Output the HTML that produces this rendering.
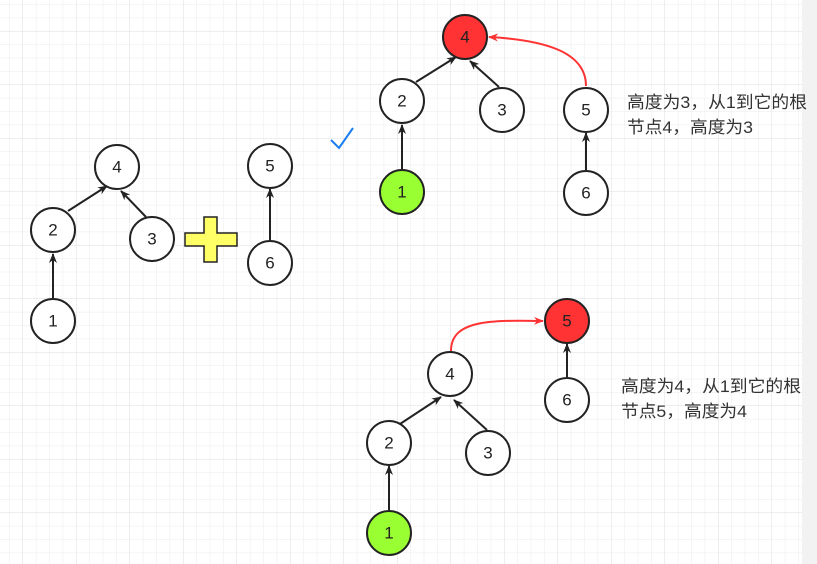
<!DOCTYPE html>
<html><head><meta charset="utf-8"><style>
html,body{margin:0;padding:0;}
body{width:817px;height:564px;overflow:hidden;background:#fff;position:relative;}
svg{position:absolute;left:0;top:0;}
</style></head><body>
<svg width="817" height="564" viewBox="0 0 817 564" font-family="Liberation Sans, Noto Sans CJK SC, sans-serif">
<defs>
<pattern id="minor" width="13.375" height="13.375" patternUnits="userSpaceOnUse" x="22.5" y="31">
<path d="M0 0H13.375M0 0V13.375" stroke="#ebebeb" stroke-width="1" fill="none"/>
</pattern>
<pattern id="major" width="53.5" height="53.5" patternUnits="userSpaceOnUse" x="22.5" y="31">
<path d="M0 0H53.5M0 0V53.5" stroke="#dedede" stroke-width="1" fill="none"/>
</pattern>
<marker id="ab" markerWidth="10" markerHeight="10" refX="9" refY="5" orient="auto" markerUnits="userSpaceOnUse">
<path d="M0,1 L10,5 L0,9 L3,5 Z" fill="#222"/></marker>
<marker id="ar" markerWidth="10" markerHeight="10" refX="9" refY="5" orient="auto" markerUnits="userSpaceOnUse">
<path d="M0,1 L10,5 L0,9 L3,5 Z" fill="#ff3333"/></marker>
</defs>
<rect width="817" height="564" fill="url(#minor)"/>
<rect width="817" height="564" fill="url(#major)"/>
<rect x="802" y="0" width="15" height="564" fill="#f2f2f2"/>

<g stroke="#222" stroke-width="2" fill="none">
<line x1="53" y1="298" x2="53" y2="254" marker-end="url(#ab)"/>
<line x1="68" y1="211" x2="107" y2="186" marker-end="url(#ab)"/>
<line x1="146" y1="217" x2="121" y2="191" marker-end="url(#ab)"/>
<line x1="270" y1="240" x2="270" y2="189" marker-end="url(#ab)"/>
<line x1="402" y1="169" x2="402" y2="125" marker-end="url(#ab)"/>
<line x1="416" y1="82" x2="456" y2="57" marker-end="url(#ab)"/>
<line x1="499" y1="87" x2="470" y2="61" marker-end="url(#ab)"/>
<line x1="586" y1="170" x2="586" y2="133" marker-end="url(#ab)"/>
<line x1="389" y1="510" x2="389" y2="466" marker-end="url(#ab)"/>
<line x1="400" y1="424" x2="441" y2="397" marker-end="url(#ab)"/>
<line x1="487" y1="430" x2="454" y2="400" marker-end="url(#ab)"/>
<line x1="567" y1="377" x2="567" y2="344" marker-end="url(#ab)"/>
</g>
<path d="M586,86 C586,52 545,40 489,37" stroke="#ff3333" stroke-width="2" fill="none" marker-end="url(#ar)"/>
<path d="M451,351 C451,320 490,320 543,321" stroke="#ff3333" stroke-width="2" fill="none" marker-end="url(#ar)"/>

<g stroke="#222" stroke-width="2">
<circle cx="117" cy="167" r="22" fill="#fff"/>
<circle cx="53" cy="230" r="22" fill="#fff"/>
<circle cx="152" cy="239" r="22" fill="#fff"/>
<circle cx="53" cy="321" r="22" fill="#fff"/>
<circle cx="270" cy="166" r="22" fill="#fff"/>
<circle cx="270" cy="263" r="22" fill="#fff"/>
<circle cx="465" cy="37" r="22" fill="#ff3333"/>
<circle cx="402" cy="101" r="22" fill="#fff"/>
<circle cx="502" cy="110" r="22" fill="#fff"/>
<circle cx="586" cy="110" r="22" fill="#fff"/>
<circle cx="402" cy="192" r="22" fill="#99ff33"/>
<circle cx="586" cy="193" r="22" fill="#fff"/>
<circle cx="567" cy="321" r="22" fill="#ff3333"/>
<circle cx="450" cy="374" r="22" fill="#fff"/>
<circle cx="567" cy="400" r="22" fill="#fff"/>
<circle cx="389" cy="443" r="22" fill="#fff"/>
<circle cx="488" cy="453" r="22" fill="#fff"/>
<circle cx="389" cy="533" r="22" fill="#99ff33"/>
</g>
<g font-size="17" fill="#222" text-anchor="middle" dominant-baseline="central">
<text x="117" y="167">4</text><text x="53" y="230">2</text><text x="152" y="239">3</text><text x="53" y="321">1</text>
<text x="270" y="166">5</text><text x="270" y="263">6</text>
<text x="465" y="37">4</text><text x="402" y="101">2</text><text x="502" y="110">3</text><text x="586" y="110">5</text>
<text x="402" y="192">1</text><text x="586" y="193">6</text>
<text x="567" y="321">5</text><text x="450" y="374">4</text><text x="567" y="400">6</text>
<text x="389" y="443">2</text><text x="488" y="453">3</text><text x="389" y="533">1</text>
</g>
<path d="M204,217 H217 V233 H237 V246 H217 V262 H204 V246 H185 V233 H204 Z" fill="#ffff66" stroke="#222" stroke-width="1.5"/>
<path d="M331,140 L339,148 L353,128" stroke="#1a7cf0" stroke-width="2" fill="none"/>
<g font-size="17" fill="#333">
<text x="627" y="108" textLength="180" lengthAdjust="spacingAndGlyphs">高度为3，从1到它的根</text>
<text x="627" y="133" textLength="126" lengthAdjust="spacingAndGlyphs">节点4，高度为3</text>
<text x="621" y="392" textLength="180" lengthAdjust="spacingAndGlyphs">高度为4，从1到它的根</text>
<text x="621" y="417" textLength="126" lengthAdjust="spacingAndGlyphs">节点5，高度为4</text>
</g>
</svg>
</body></html>
